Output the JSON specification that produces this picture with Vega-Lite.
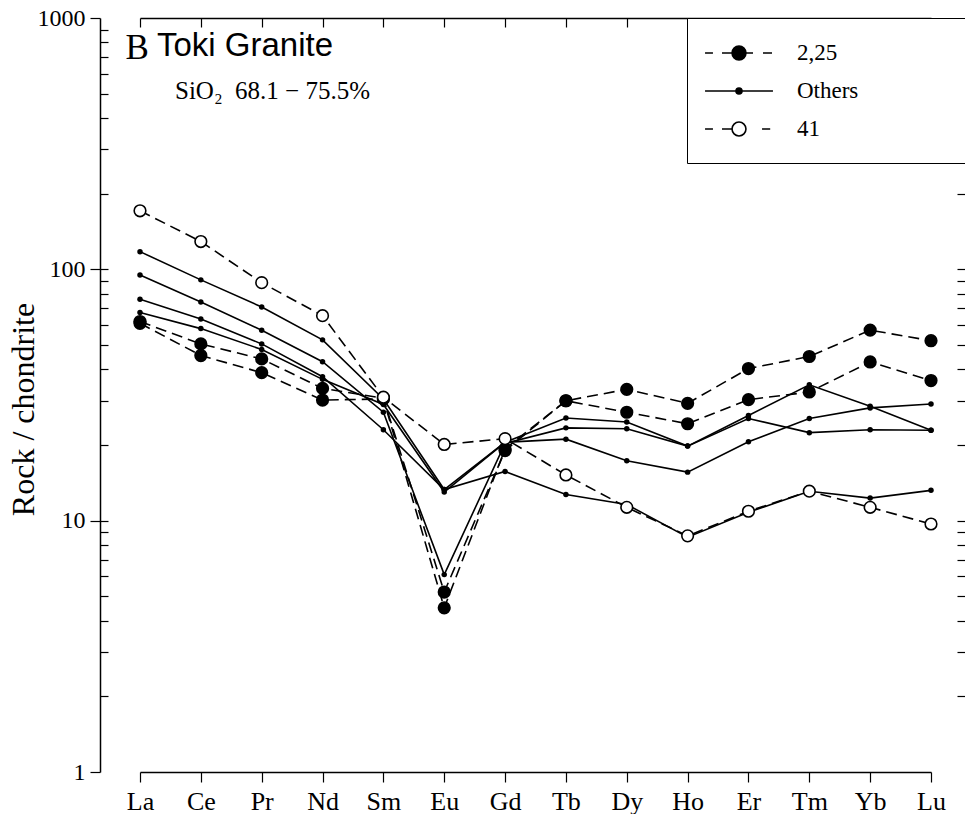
{
  "$schema": "https://vega.github.io/schema/vega-lite/v6.json",
  "autosize": {"type": "none"},
  "padding": {"left": 100, "top": 18, "right": 0, "bottom": 42},
  "width": 865,
  "height": 754,
  "background": "white",
  "config": {"view": {"stroke": null}},
  "title": {
    "text": "Toki Granite",
    "subtitle": "⠀SiO₂\u00a0 68.1 − 75.5%",
    "anchor": "start",
    "frame": "group",
    "orient": "top",
    "offset": 0,
    "dx": 57,
    "dy": 98,
    "font": "Liberation Sans",
    "fontSize": 33,
    "fontWeight": "normal",
    "color": "black",
    "subtitleFont": "Liberation Serif",
    "subtitleFontSize": 25,
    "subtitleColor": "black",
    "subtitlePadding": 16
  },
  "data": {
    "values": [
      {"s": "2", "g": "2,25", "e": "La", "v": 62},
      {"s": "2", "g": "2,25", "e": "Ce", "v": 50.5},
      {"s": "2", "g": "2,25", "e": "Pr", "v": 44},
      {"s": "2", "g": "2,25", "e": "Nd", "v": 33.6},
      {"s": "2", "g": "2,25", "e": "Sm", "v": 30.7},
      {"s": "2", "g": "2,25", "e": "Eu", "v": 5.2},
      {"s": "2", "g": "2,25", "e": "Gd", "v": 19},
      {"s": "2", "g": "2,25", "e": "Tb", "v": 30},
      {"s": "2", "g": "2,25", "e": "Dy", "v": 33.3},
      {"s": "2", "g": "2,25", "e": "Ho", "v": 29.3},
      {"s": "2", "g": "2,25", "e": "Er", "v": 40.3},
      {"s": "2", "g": "2,25", "e": "Tm", "v": 45},
      {"s": "2", "g": "2,25", "e": "Yb", "v": 57.3},
      {"s": "2", "g": "2,25", "e": "Lu", "v": 52},
      {"s": "25", "g": "2,25", "e": "La", "v": 61},
      {"s": "25", "g": "2,25", "e": "Ce", "v": 45.4},
      {"s": "25", "g": "2,25", "e": "Pr", "v": 38.8},
      {"s": "25", "g": "2,25", "e": "Nd", "v": 30.2},
      {"s": "25", "g": "2,25", "e": "Sm", "v": 30.5},
      {"s": "25", "g": "2,25", "e": "Eu", "v": 4.5},
      {"s": "25", "g": "2,25", "e": "Gd", "v": 19.3},
      {"s": "25", "g": "2,25", "e": "Tb", "v": 30},
      {"s": "25", "g": "2,25", "e": "Dy", "v": 27},
      {"s": "25", "g": "2,25", "e": "Ho", "v": 24.3},
      {"s": "25", "g": "2,25", "e": "Er", "v": 30.3},
      {"s": "25", "g": "2,25", "e": "Tm", "v": 32.5},
      {"s": "25", "g": "2,25", "e": "Yb", "v": 42.8},
      {"s": "25", "g": "2,25", "e": "Lu", "v": 36.1},
      {"s": "41", "g": "41", "e": "La", "v": 171},
      {"s": "41", "g": "41", "e": "Ce", "v": 129},
      {"s": "41", "g": "41", "e": "Pr", "v": 88.5},
      {"s": "41", "g": "41", "e": "Nd", "v": 65.4},
      {"s": "41", "g": "41", "e": "Sm", "v": 31},
      {"s": "41", "g": "41", "e": "Eu", "v": 20.1},
      {"s": "41", "g": "41", "e": "Gd", "v": 21.2},
      {"s": "41", "g": "41", "e": "Tb", "v": 15.2},
      {"s": "41", "g": "41", "e": "Dy", "v": 11.3},
      {"s": "41", "g": "41", "e": "Ho", "v": 8.7},
      {"s": "41", "g": "41", "e": "Er", "v": 10.9},
      {"s": "41", "g": "41", "e": "Tm", "v": 13.1},
      {"s": "41", "g": "41", "e": "Yb", "v": 11.3},
      {"s": "41", "g": "41", "e": "Lu", "v": 9.7},
      {"s": "oA", "g": "Others", "e": "La", "v": 117.6},
      {"s": "oA", "g": "Others", "e": "Ce", "v": 90.8},
      {"s": "oA", "g": "Others", "e": "Pr", "v": 70.8},
      {"s": "oA", "g": "Others", "e": "Nd", "v": 52.4},
      {"s": "oA", "g": "Others", "e": "Sm", "v": 30.5},
      {"s": "oA", "g": "Others", "e": "Eu", "v": 13.3},
      {"s": "oA", "g": "Others", "e": "Gd", "v": 20.5},
      {"s": "oA", "g": "Others", "e": "Tb", "v": 25.6},
      {"s": "oA", "g": "Others", "e": "Dy", "v": 24.7},
      {"s": "oA", "g": "Others", "e": "Ho", "v": 19.8},
      {"s": "oA", "g": "Others", "e": "Er", "v": 26.2},
      {"s": "oA", "g": "Others", "e": "Tm", "v": 34.7},
      {"s": "oA", "g": "Others", "e": "Yb", "v": 28.5},
      {"s": "oA", "g": "Others", "e": "Lu", "v": 22.9},
      {"s": "oB", "g": "Others", "e": "La", "v": 95},
      {"s": "oB", "g": "Others", "e": "Ce", "v": 74.2},
      {"s": "oB", "g": "Others", "e": "Pr", "v": 57.2},
      {"s": "oB", "g": "Others", "e": "Nd", "v": 42.9},
      {"s": "oB", "g": "Others", "e": "Sm", "v": 27},
      {"s": "oB", "g": "Others", "e": "Eu", "v": 6.1},
      {"s": "oB", "g": "Others", "e": "Gd", "v": 20.3},
      {"s": "oB", "g": "Others", "e": "Tb", "v": 23.4},
      {"s": "oB", "g": "Others", "e": "Dy", "v": 23.2},
      {"s": "oB", "g": "Others", "e": "Ho", "v": 19.8},
      {"s": "oB", "g": "Others", "e": "Er", "v": 25.5},
      {"s": "oB", "g": "Others", "e": "Tm", "v": 22.4},
      {"s": "oB", "g": "Others", "e": "Yb", "v": 23},
      {"s": "oB", "g": "Others", "e": "Lu", "v": 22.9},
      {"s": "oC", "g": "Others", "e": "La", "v": 76},
      {"s": "oC", "g": "Others", "e": "Ce", "v": 63.5},
      {"s": "oC", "g": "Others", "e": "Pr", "v": 50.5},
      {"s": "oC", "g": "Others", "e": "Nd", "v": 37.4},
      {"s": "oC", "g": "Others", "e": "Sm", "v": 23},
      {"s": "oC", "g": "Others", "e": "Eu", "v": 13.3},
      {"s": "oC", "g": "Others", "e": "Gd", "v": 15.7},
      {"s": "oC", "g": "Others", "e": "Tb", "v": 12.7},
      {"s": "oC", "g": "Others", "e": "Dy", "v": 11.6},
      {"s": "oC", "g": "Others", "e": "Ho", "v": 8.6},
      {"s": "oC", "g": "Others", "e": "Er", "v": 10.8},
      {"s": "oC", "g": "Others", "e": "Tm", "v": 13.1},
      {"s": "oC", "g": "Others", "e": "Yb", "v": 12.3},
      {"s": "oC", "g": "Others", "e": "Lu", "v": 13.2},
      {"s": "oD", "g": "Others", "e": "La", "v": 67.3},
      {"s": "oD", "g": "Others", "e": "Ce", "v": 58.1},
      {"s": "oD", "g": "Others", "e": "Pr", "v": 48},
      {"s": "oD", "g": "Others", "e": "Nd", "v": 36.5},
      {"s": "oD", "g": "Others", "e": "Sm", "v": 29},
      {"s": "oD", "g": "Others", "e": "Eu", "v": 13},
      {"s": "oD", "g": "Others", "e": "Gd", "v": 20.5},
      {"s": "oD", "g": "Others", "e": "Tb", "v": 21.1},
      {"s": "oD", "g": "Others", "e": "Dy", "v": 17.3},
      {"s": "oD", "g": "Others", "e": "Ho", "v": 15.6},
      {"s": "oD", "g": "Others", "e": "Er", "v": 20.6},
      {"s": "oD", "g": "Others", "e": "Tm", "v": 25.5},
      {"s": "oD", "g": "Others", "e": "Yb", "v": 28.1},
      {"s": "oD", "g": "Others", "e": "Lu", "v": 29.1}
    ]
  },
  "resolve": {"axis": {"x": "independent", "y": "independent"}},
  "layer": [
    {
      "transform": [{"filter": "datum.g === 'Others'"}],
      "mark": {"type": "line", "color": "black", "strokeWidth": 1.6},
      "encoding": {
        "x": {
          "field": "e", "type": "ordinal",
          "scale": {"type": "point", "domain": ["La","Ce","Pr","Nd","Sm","Eu","Gd","Tb","Dy","Ho","Er","Tm","Yb","Lu"], "range": [40, 831], "padding": 0},
          "axis": {
            "orient": "bottom", "title": null, "grid": false,
            "domain": true, "domainColor": "black", "domainWidth": 1.5,
            "ticks": true, "tickColor": "black", "tickSize": 10, "tickWidth": 1.2,
            "labelFont": "Liberation Serif", "labelFontSize": 26, "labelColor": "black",
            "labelPadding": 6, "labelAngle": 0
          }
        },
        "y": {
          "field": "v", "type": "quantitative",
          "scale": {"type": "log", "domain": [1, 1000], "nice": false},
          "axis": {
            "orient": "left", "values": [1, 10, 100, 1000], "format": "d", "grid": false,
            "domain": true, "domainColor": "black", "domainWidth": 1.5,
            "ticks": true, "tickColor": "black", "tickSize": 10, "tickWidth": 1.2,
            "labelFont": "Liberation Serif", "labelFontSize": 24, "labelColor": "black",
            "labelPadding": 5, "labelOverlap": false, "labelFlush": false,
            "title": "Rock / chondrite", "titleFont": "Liberation Serif", "titleFontSize": 32,
            "titleFontWeight": "normal", "titleColor": "black",
            "titleX": -67, "titleY": 391, "titleAngle": -90, "titleAlign": "center", "titleBaseline": "alphabetic"
          }
        },
        "detail": {"field": "s"}
      }
    },
    {
      "transform": [{"filter": "datum.g !== 'Others'"}],
      "mark": {"type": "line", "color": "black", "strokeWidth": 1.6, "strokeDash": [11, 6]},
      "encoding": {
        "x": {"field": "e", "type": "ordinal", "axis": null},
        "y": {"field": "v", "type": "quantitative", "axis": null},
        "detail": {"field": "s"}
      }
    },
    {
      "transform": [{"filter": "datum.g === 'Others'"}],
      "mark": {"type": "point", "shape": "circle", "filled": true, "color": "black", "size": 30, "opacity": 1},
      "encoding": {
        "x": {
          "field": "e", "type": "ordinal",
          "axis": {
            "orient": "top", "labels": false, "grid": false,
            "domain": true, "domainColor": "black", "domainWidth": 1.5,
            "ticks": true, "tickColor": "black", "tickSize": -9, "tickWidth": 1.2,
            "title": "B", "titleFont": "Liberation Serif", "titleFontSize": 35, "titleFontWeight": "normal",
            "titleColor": "black", "titleX": 25, "titleY": 40, "titleAngle": 0, "titleAlign": "left", "titleBaseline": "alphabetic"
          }
        },
        "y": {
          "field": "v", "type": "quantitative",
          "axis": {
            "orient": "left", "labels": false, "domain": false, "grid": false, "title": null,
            "values": [2,3,4,5,6,7,8,9,10,20,30,40,50,60,70,80,90,100,200,300,400,500,600,700,800,900],
            "ticks": true, "tickColor": "black", "tickSize": -8, "tickWidth": 1.2
          }
        }
      }
    },
    {
      "transform": [{"filter": "datum.g !== 'Others'"}],
      "mark": {"type": "point", "shape": "circle", "filled": true, "stroke": "black", "strokeWidth": 1.6, "size": 135, "opacity": 1},
      "encoding": {
        "x": {"field": "e", "type": "ordinal", "axis": null},
        "y": {
          "field": "v", "type": "quantitative",
          "axis": {
            "orient": "right", "labels": false, "domain": false, "grid": false, "title": null,
            "values": [2,3,4,5,6,7,8,9,10,20,30,40,50,60,70,80,90,100,200,300,400,500,600,700,800,900],
            "ticks": true, "tickColor": "black", "tickSize": -8, "tickWidth": 1.2
          }
        },
        "fill": {
          "field": "g", "type": "nominal",
          "scale": {"domain": ["2,25", "Others", "41"], "range": ["black", "black", "white"]}
        }
      }
    },
    {
      "mark": {"type": "point", "filled": true, "stroke": "black", "strokeWidth": 1.6, "size": 576, "opacity": 0},
      "encoding": {
        "x": {"field": "e", "type": "ordinal", "axis": null},
        "y": {"field": "v", "type": "quantitative", "axis": null},
        "fill": {"field": "g", "type": "nominal"},
        "shape": {
          "field": "g", "type": "nominal",
          "scale": {
            "domain": ["2,25", "Others", "41"],
            "range": [
              "M-2.83,0L-2.17,0M-1.42,0L-0.58,0M0.58,0L1.17,0M2,0L2.75,0M-0.58,0A0.58 0.58 0 1 0 0.58,0A0.58 0.58 0 1 0 -0.58,0Z",
              "M-2.83,0L2.83,0M-0.25,0A0.25 0.25 0 1 0 0.25,0A0.25 0.25 0 1 0 -0.25,0Z",
              "M-2.83,0L-2.17,0M-1.42,0L-0.58,0M1.92,0L2.6,0M-0.58,0A0.58 0.58 0 1 0 0.58,0A0.58 0.58 0 1 0 -0.58,0Z"
            ]
          },
          "legend": {
            "title": null,
            "orient": "none",
            "legendX": 587,
            "legendY": 0,
            "padding": 22,
            "strokeColor": "black",
            "fillColor": "white",
            "labelFont": "Liberation Serif",
            "labelFontSize": 23,
            "labelColor": "black",
            "labelLimit": 600,
            "labelOffset": 45,
            "symbolOffset": 17,
            "symbolSize": 576,
            "symbolStrokeWidth": 1.6,
            "symbolStrokeColor": "black",
            "symbolOpacity": 1,
            "rowPadding": 13,
            "labelExpr": "datum.label + '⠀⠀⠀⠀⠀⠀'"
          }
        }
      }
    }
  ]
}
